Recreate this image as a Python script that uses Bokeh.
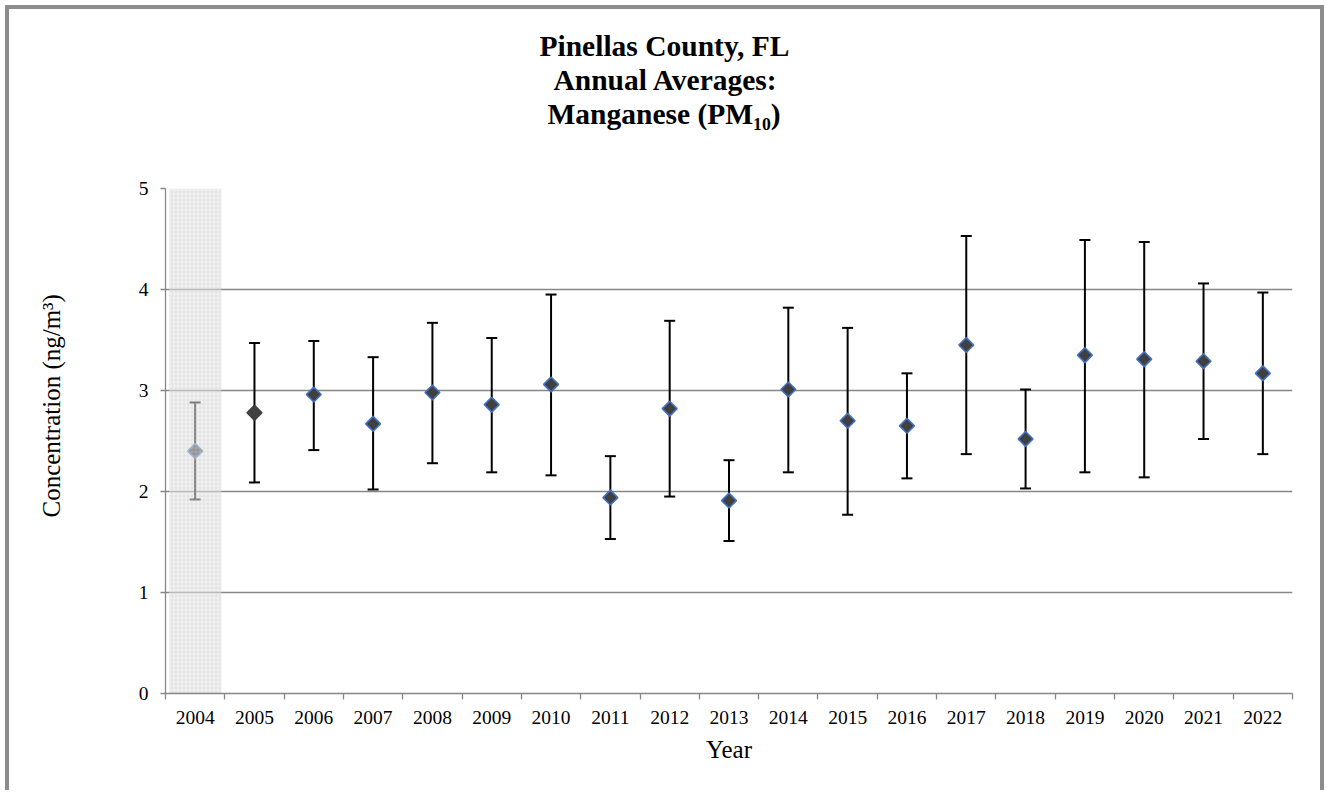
import numpy as np
from bokeh.plotting import figure
from bokeh.models import Range1d, FixedTicker, Title, ColumnDataSource
from bokeh.embed import file_html
from bokeh.resources import INLINE

# ---------------- data ----------------
years = [2004, 2005, 2006, 2007, 2008, 2009, 2010, 2011, 2012, 2013,
         2014, 2015, 2016, 2017, 2018, 2019, 2020, 2021, 2022]
mean_values = [2.40, 2.78, 2.96, 2.67, 2.98, 2.86, 3.06, 1.94, 2.82, 1.91,
               3.01, 2.70, 2.65, 3.45, 2.52, 3.35, 3.31, 3.29, 3.17]
upper_values = [2.88, 3.47, 3.49, 3.33, 3.67, 3.52, 3.95, 2.35, 3.69, 2.31,
                3.82, 3.62, 3.17, 4.53, 3.01, 4.49, 4.47, 4.06, 3.97]
lower_values = [1.92, 2.09, 2.41, 2.02, 2.28, 2.19, 2.16, 1.53, 1.95, 1.51,
                2.19, 1.77, 2.13, 2.37, 2.03, 2.19, 2.14, 2.52, 2.37]
shaded_years = [2004]
plain_marker_years = [2005]
y_ticks = [0, 1, 2, 3, 4, 5]

title_lines = ["Pinellas County, FL", "Annual Averages:", "Manganese (PM\u2081\u2080)"]
x_title = "Year"
y_title = "Concentration (ng/m\u00b3)"

# ---------------- styling ----------------
SERIF = "Liberation Serif"
GRAY = "#878787"
MARK_FILL = "#404040"
MARK_EDGE = "#4472C4"

src = ColumnDataSource(dict(
    year=years, mean=mean_values, upper=upper_values, lower=lower_values,
    edge=[MARK_FILL if y in plain_marker_years else MARK_EDGE for y in years],
))

p = figure(
    frame_width=1127, frame_height=505,
    min_border_left=156, min_border_right=28, min_border_top=179, min_border_bottom=97,
    x_range=Range1d(years[0] - 0.5, years[-1] + 0.5),
    y_range=Range1d(y_ticks[0], y_ticks[-1]),
    output_backend="svg", toolbar_location=None,
    background_fill_color="white", border_fill_color="white",
    styles={"border-top": "4px solid #8c8c8c", "border-left": "4px solid #8c8c8c",
            "border-right": "4px solid #8c8c8c", "margin-left": "5px", "margin-top": "5px"},
)
p.outline_line_color = None

# x axis: labels at year centres, ticks at the boundaries between years
p.xaxis.ticker = FixedTicker(ticks=years,
                             minor_ticks=[y - 0.5 for y in years] + [years[-1] + 0.5])
p.xaxis.major_tick_in = 0
p.xaxis.major_tick_out = 0
p.xaxis.minor_tick_in = 0
p.xaxis.minor_tick_out = 6
p.xaxis.minor_tick_line_color = GRAY
p.xaxis.minor_tick_line_width = 1.3
p.xaxis.axis_line_color = GRAY
p.xaxis.axis_line_width = 1.3
p.xaxis.major_label_text_font = SERIF
p.xaxis.major_label_text_font_size = "19.5px"
p.xaxis.major_label_text_color = "black"
p.xaxis.major_label_standoff = 11
p.xaxis.axis_label = x_title
p.xaxis.axis_label_text_font = SERIF
p.xaxis.axis_label_text_font_size = "25px"
p.xaxis.axis_label_text_font_style = "normal"
p.xaxis.axis_label_text_color = "black"
p.xaxis.axis_label_standoff = 9

p.yaxis.ticker = FixedTicker(ticks=y_ticks)
p.yaxis.major_tick_in = 0
p.yaxis.major_tick_out = 5
p.yaxis.major_tick_line_color = GRAY
p.yaxis.major_tick_line_width = 1.3
p.yaxis.minor_tick_line_color = None
p.yaxis.axis_line_color = GRAY
p.yaxis.axis_line_width = 1.3
p.yaxis.major_label_text_font = SERIF
p.yaxis.major_label_text_font_size = "19.5px"
p.yaxis.major_label_text_color = "black"
p.yaxis.major_label_standoff = 12

p.xgrid.visible = False
p.ygrid.grid_line_color = GRAY
p.ygrid.grid_line_width = 1.3

# error bars
p.segment(x0="year", y0="lower", x1="year", y1="upper", source=src,
          line_color="black", line_width=2)
p.scatter(x="year", y="upper", source=src, marker="dash", size=11,
          line_color="black", line_width=2)
p.scatter(x="year", y="lower", source=src, marker="dash", size=11,
          line_color="black", line_width=2)

# diamonds
p.scatter(x="year", y="mean", source=src, marker="square", angle=np.pi / 4, size=10.5,
          fill_color=MARK_FILL, line_color="edge", line_width=1.6)

# shaded (incomplete) year band drawn over the point
half = 0.44
p.quad(left=[y - half for y in shaded_years], right=[y + half for y in shaded_years],
       bottom=[y_ticks[0]] * len(shaded_years), top=[y_ticks[-1]] * len(shaded_years),
       fill_color="#e6e6e6", fill_alpha=0.5, line_color=None,
       hatch_pattern="cross", hatch_color="#c8c8c8", hatch_alpha=0.6,
       hatch_scale=4, hatch_weight=0.6)

# ---- titles (the first panel added sits closest to the plot) ----
# spacer between plot and title block
p.add_layout(Title(text=" ", text_font_size="1px", standoff=56), "above")
title_offsets = [374, 388, 382]   # left edge of each line, from the plot's left edge
title_line_heights = [0.95, 0.95, 0.9]
for line, off, lh in zip(reversed(title_lines), reversed(title_offsets),
                         reversed(title_line_heights)):
    p.add_layout(Title(text=line, align="left", offset=off, standoff=0,
                       text_font=SERIF, text_font_style="bold",
                       text_font_size="29.5px", text_color="black",
                       text_line_height=lh), "above")

# y-axis title: spacer then the title itself
p.add_layout(Title(text=" ", text_font_size="1px", standoff=67), "left")
p.add_layout(Title(text=y_title, align="left", offset=176, vertical_align="middle",
                   standoff=0, text_font=SERIF, text_font_style="normal",
                   text_font_size="25px", text_color="black"), "left")

open("out.html", "w").write(file_html(p, INLINE))
